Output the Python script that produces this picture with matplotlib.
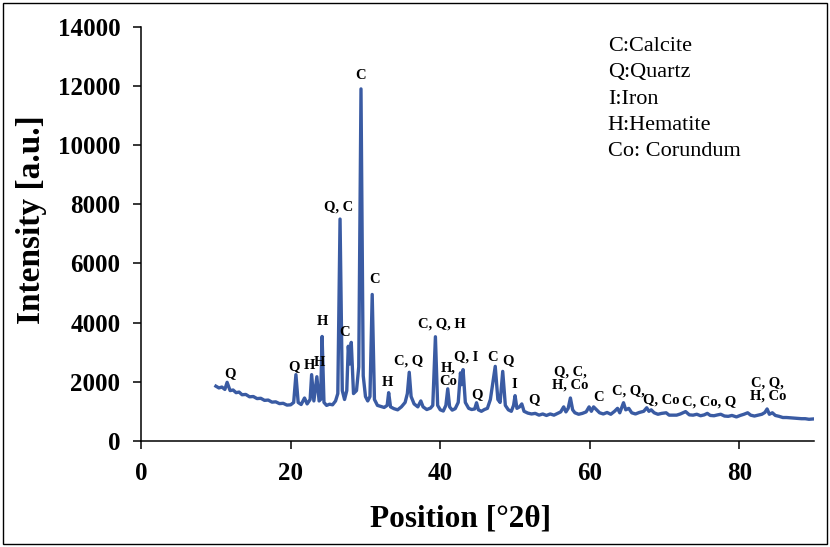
"""XRD pattern with phase labels (C, Q, I, H, Co)."""

import matplotlib.pyplot as plt
from matplotlib.patches import Rectangle

plt.rcParams["font.family"] = ["Liberation Serif", "DejaVu Serif"]

# Diffraction pattern (position in deg 2-theta, intensity)
two_theta = [
    10.0, 10.4, 10.8, 11.2, 11.5, 11.9, 12.3, 12.7, 13.1, 13.5,
    14.0, 14.5, 15.0, 15.5, 16.0, 16.5, 17.0, 17.5, 18.0, 18.5,
    19.0, 19.5, 20.0, 20.4, 20.7, 21.0, 21.4, 21.85, 22.2, 22.6,
    22.8, 23.1, 23.5, 23.8, 24.0, 24.2, 24.45, 24.8, 25.2, 25.6,
    26.0, 26.3, 26.6, 26.9, 27.2, 27.5, 27.7, 27.9, 28.1, 28.4,
    28.8, 29.1, 29.4, 29.7, 30.0, 30.3, 30.6, 30.9, 31.2, 31.6,
    32.0, 32.5, 32.9, 33.1, 33.35, 33.8, 34.3, 34.8, 35.3, 35.6,
    35.85, 36.1, 36.5, 37.0, 37.4, 37.7, 38.2, 38.7, 39.0, 39.35,
    39.65, 40.0, 40.4, 40.75, 41.0, 41.25, 41.6, 42.0, 42.4, 42.7,
    42.85, 43.05, 43.35, 43.8, 44.2, 44.6, 44.85, 45.1, 45.5, 45.9,
    46.3, 46.7, 47.05, 47.35, 47.7, 48.0, 48.35, 48.7, 49.1, 49.5,
    49.8, 50.0, 50.25, 50.6, 50.9, 51.2, 51.7, 52.2, 52.7, 53.2,
    53.7, 54.2, 54.7, 55.2, 55.7, 56.1, 56.5, 56.8, 57.1, 57.4,
    57.7, 58.0, 58.5, 59.0, 59.5, 59.9, 60.2, 60.5, 60.9, 61.3,
    61.8, 62.3, 62.8, 63.3, 63.7, 64.0, 64.5, 64.8, 65.2, 65.6,
    66.1, 66.6, 67.2, 67.6, 67.9, 68.2, 68.6, 69.1, 69.6, 70.2,
    70.6, 71.1, 71.6, 72.1, 72.8, 73.3, 73.8, 74.3, 74.8, 75.3,
    75.7, 76.1, 76.6, 77.1, 77.5, 78.0, 78.5, 79.0, 79.6, 80.1,
    80.6, 81.1, 81.5, 82.0, 82.5, 83.0, 83.4, 83.7, 84.0, 84.4,
    84.8, 85.3, 85.8, 86.3, 86.8, 87.3, 87.8, 88.3, 88.8, 89.3,
    89.8,
]
intensity = [
    1850, 1790, 1820, 1740, 1980, 1700, 1720, 1630, 1650, 1560,
    1570, 1490, 1500, 1430, 1440, 1370, 1380, 1310, 1320, 1260,
    1270, 1210, 1220, 1300, 2240, 1300, 1230, 1450, 1250, 1400,
    2240, 1350, 2170, 1350, 1400, 3530, 1300, 1200, 1240, 1220,
    1350, 1600, 7500, 1700, 1400, 1700, 3200, 2600, 3330, 1600,
    1700, 2500, 11900, 2200, 1500, 1350, 1500, 4950, 1400, 1200,
    1170, 1130, 1200, 1630, 1150, 1090, 1050, 1150, 1300, 1600,
    2320, 1500, 1250, 1150, 1350, 1150, 1060, 1110, 1200, 3520,
    1200, 1050, 1010, 1200, 1760, 1150, 1040, 1090, 1300, 2300,
    1900, 2410, 1300, 1100, 1060, 1080, 1290, 1050, 1000, 1060,
    1100, 1400, 2000, 2520, 1400, 1300, 2350, 1200, 1050, 1000,
    1200, 1530, 1100, 1150, 1250, 1000, 940, 910, 930, 870,
    910, 860, 910, 870, 930, 980, 1150, 980, 1100, 1450,
    1050, 950, 900, 930, 980, 1150, 1000, 1150, 1050, 950,
    910, 960, 900, 1000, 1100, 950, 1290, 1050, 1100, 950,
    910, 960, 1000, 1120, 1000, 1050, 950, 900, 930, 950,
    870, 870, 870, 910, 990, 880, 870, 900, 850, 880,
    930, 860, 850, 880, 900, 840, 830, 860, 810, 860,
    900, 950, 870, 840, 870, 900, 960, 1080, 900, 950,
    860, 830, 790, 790, 780, 770, 760, 750, 750, 730,
    740,
]

# Phase labels above the peaks (text, position, intensity)
peak_labels = [
    "Q", "Q", "H", "H", "H", "Q, C", "C", "C", "C", "H", "C, Q",
    "C, Q, H", "H,\nCo", "Q, I", "Q", "C", "Q", "I", "Q",
    "Q, C,\nH, Co", "C", "C, Q,", "Q, Co", "C, Co, Q", "C, Q,\nH, Co",
]
label_x = [
    11.9, 20.4, 22.5, 23.9, 24.2, 26.4, 29.3, 27.2, 31.2, 32.95, 35.8,
    40.2, 41.0, 43.5, 44.9, 47.05, 49.1, 49.9, 52.5,
    57.4, 61.2, 65.2, 69.5, 76.0, 83.8,
]
label_y = [
    2270, 2520, 2560, 2660, 4020, 7900, 12360, 3660, 5470, 1990, 2690,
    3960, 2230, 2840, 1560, 2830, 2720, 1900, 1390,
    2120, 1450, 1675, 1370, 1300, 1740,
]

legend_lines = ["C:Calcite", "Q:Quartz", "I:Iron", "H:Hematite", "Co: Corundum"]

fig = plt.figure(figsize=(8.3, 5.47), dpi=100)
ax = fig.add_axes([0.170, 0.194, 0.811, 0.757])

ax.plot(two_theta, intensity, color="#3A5BA3", linewidth=2.4,
        solid_joinstyle="round")

for txt, lx, ly in zip(peak_labels, label_x, label_y):
    ax.text(lx, ly, txt, ha="center", va="center", fontsize=10.5,
            fontweight="bold", linespacing=1.0)

ax.text(62.4, 13650, "\n".join(legend_lines), ha="left", va="top",
        fontsize=16, linespacing=1.52)

ax.set_xlim(0, 90)
ax.set_ylim(0, 14000)
ax.set_xticks([0, 20, 40, 60, 80])
ax.set_yticks(range(0, 14001, 2000))
ax.tick_params(direction="out", length=6, width=1.1, labelsize=18, pad=9)
for lab in ax.get_xticklabels() + ax.get_yticklabels():
    lab.set_fontweight("bold")

ax.set_xlabel("Position [°2θ]", fontsize=22.5, fontweight="bold")
ax.xaxis.set_label_coords(0.475, -0.153)
ax.set_ylabel("Intensity [a.u.]", fontsize=24, fontweight="bold")
ax.yaxis.set_label_coords(-0.140, 0.534)

ax.spines["top"].set_visible(False)
ax.spines["right"].set_visible(False)
for side in ("left", "bottom"):
    ax.spines[side].set_linewidth(1.1)

# Thin frame round the whole figure
fig.patches.append(Rectangle((0.004, 0.005), 0.992, 0.99, transform=fig.transFigure,
                             fill=False, edgecolor="black", linewidth=1.0))

fig.savefig("out.png", dpi=100, facecolor="white")
